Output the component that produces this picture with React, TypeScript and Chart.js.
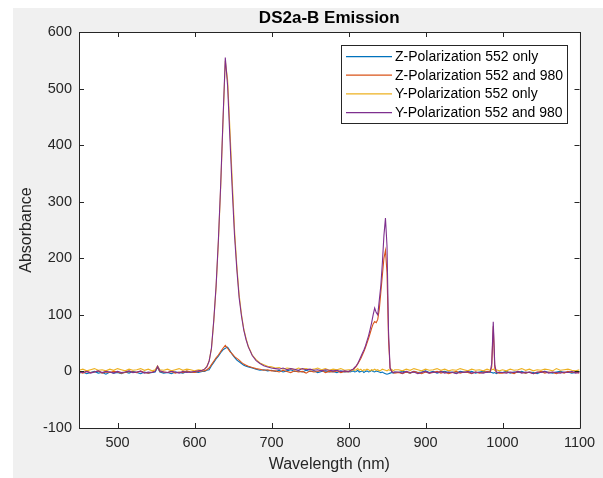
import React, { useEffect, useRef } from "react";
import { Chart, registerables } from "chart.js";
Chart.register(...registerables);

const wavelengths = [
  450,455,460,465,470,475,480,485,490,495,
  500,505,510,515,520,525,530,535,540,545,
  549,552,555,560,565,570,575,580,585,590,
  595,600,605,610,
  613,616,619,622,625,628,631,634,637,640,643,646,649,652,655,658,661,664,667,670,
  675,680,685,690,695,700,
  705,710,715,720,725,730,735,740,745,750,755,760,765,770,775,780,785,790,795,800,
  802,804,806,808,810,812,814,816,818,820,822,824,826,828,830,832,834,836,838,840,842,844,846,848,850,852,854,856,858,860,
  865,870,875,880,885,890,895,900,905,910,915,920,925,930,935,940,945,950,955,960,965,970,975,980,
  984,986,988,990,992,996,
  1000,1005,1010,1015,1020,1025,1030,1035,1040,1045,1050,1055,1060,1065,1070,1075,1080,1085,1090,1095,1100,
];

const zPol552Only = [
  -3,-1,-4,-2,0,-3,-2,-5,-1,-3,-2,-4,-1,-3,0,-2,-4,-1,-3,-2,-1,8,-1,-3,-2,-4,-1,-2,-3,0,-2,-1,-2,0,
  0,2,3,10,16,22,27,33,38,41,43,37,30,25,20,17,14,11,9,8,6,4,2,3,1,2,
  0,2,-1,1,3,0,1,-1,2,0,1,-2,0,1,-1,0,-2,1,-1,0,
  -1,0,1,-1,0,2,-1,0,1,-2,0,1,-1,0,2,0,-1,1,0,-1,-2,-1,-3,-4,-5,-4,-3,-2,-3,-1,
  -2,0,-1,-3,0,-2,-1,1,-2,0,-3,-1,0,-2,-1,-3,0,-1,-2,0,-3,-1,0,-2,
  -1,-2,-3,-2,-4,-1,
  -2,0,-3,-1,-2,0,-3,-1,-2,-4,-1,0,-2,-3,-1,0,-2,-1,-3,-2,-1,
];

const zPol552And980 = [
  -1,-3,0,-2,-1,1,-3,-1,-2,0,-1,-3,-2,0,-1,-2,1,-2,-3,-1,1,8,0,-1,-2,0,-3,-1,-2,1,-1,-2,0,1,
  1,3,6,12,18,24,29,35,41,46,41,35,31,26,23,20,16,13,11,9,7,5,4,2,3,1,
  1,-1,2,0,-2,1,-1,0,-3,1,-1,0,2,-2,0,-1,1,-2,0,-1,
  1,2,3,6,9,13,18,23,29,35,42,50,58,67,76,84,88,86,92,110,140,170,200,214,175,55,6,0,-2,-3,
  -2,-4,-1,-3,0,-2,-4,-1,-3,-2,0,-3,-1,-4,-2,0,-3,-1,-2,-4,-1,-3,-2,0,
  -1,8,80,6,-2,-3,
  -3,-1,-2,-4,0,-2,-3,-1,-4,-2,0,-3,-1,-2,-4,-1,-3,0,-2,-1,-3,
];

const yPol552Only = [
  2,4,1,3,5,2,3,1,4,2,5,3,1,4,2,3,5,2,4,1,3,10,3,2,4,1,3,5,2,4,3,1,3,2,
  4,9,19,40,88,148,228,325,440,549,515,428,338,250,186,135,101,75,58,44,29,21,15,12,9,8,
  6,7,4,6,5,3,6,4,5,3,4,6,3,5,2,4,3,5,2,3,
  3,1,4,2,3,5,2,4,1,3,2,4,3,1,3,2,4,2,3,1,2,4,3,2,1,3,2,4,1,3,
  3,1,4,2,5,3,1,4,2,3,5,2,4,1,3,2,5,3,1,4,2,3,1,4,
  2,3,4,2,3,1,
  3,1,4,2,3,5,2,4,1,3,2,4,3,1,5,2,3,4,2,1,3,
];

const yPol552And980 = [
  -1,-2,0,-3,-1,1,-2,0,-1,-3,0,-2,-1,1,-2,-1,0,-3,-1,-2,0,9,1,-1,-2,0,-1,-3,0,-2,-1,0,1,2,
  4,8,18,41,90,150,232,330,445,555,505,412,322,240,180,130,98,73,56,43,28,19,14,10,8,6,
  5,4,6,3,5,4,2,5,3,4,2,3,1,3,2,1,2,0,1,0,
  1,3,4,7,10,14,20,26,32,38,45,54,63,74,86,100,112,104,100,126,152,192,240,271,222,70,6,0,-2,-1,
  -1,-3,0,-2,-1,-4,-2,0,-3,-1,-2,0,-3,-1,-2,-4,-1,-2,0,-3,-1,-2,-3,-1,
  -1,14,88,11,-1,-2,
  -2,-3,-1,-2,0,-3,-1,-2,-4,-1,-2,0,-3,-1,-2,-3,-1,-2,0,-3,-2,
];

const seriesLabels = [
  "Z-Polarization 552 only",
  "Z-Polarization 552 and 980",
  "Y-Polarization 552 only",
  "Y-Polarization 552 and 980",
];
const seriesColors = ["#0072BD", "#D95319", "#EDB120", "#7E2F8E"];
const xTicks = [500, 600, 700, 800, 900, 1000, 1100];
const yTicks = [-100, 0, 100, 200, 300, 400, 500, 600];

const FONT = "'Liberation Sans', Arial, Helvetica, sans-serif";
const AXIS_COLOR = "#262626";

const matlabPlugin = {
  id: "matlabLook",
  beforeDraw(chart: any) {
    const { ctx, chartArea } = chart;
    ctx.save();
    ctx.fillStyle = "#f0f0f0";
    ctx.fillRect(13, 8, chart.width - 13, chart.height - 8);
    ctx.fillStyle = "#ffffff";
    ctx.fillRect(chartArea.left, chartArea.top, chartArea.right - chartArea.left, chartArea.bottom - chartArea.top);
    ctx.restore();
  },
  afterDatasetsDraw(chart: any) {
    const { ctx, chartArea, scales } = chart;
    const { left, right, top, bottom } = chartArea;
    ctx.save();
    ctx.strokeStyle = AXIS_COLOR;
    ctx.lineWidth = 1;
    ctx.beginPath();
    ctx.rect(Math.round(left) + 0.5, Math.round(top) + 0.5, Math.round(right - left), Math.round(bottom - top));
    ctx.stroke();
    const tl = 5;
    ctx.beginPath();
    for (const v of xTicks) {
      const x = Math.round(scales.x.getPixelForValue(v)) + 0.5;
      ctx.moveTo(x, bottom);
      ctx.lineTo(x, bottom - tl);
      ctx.moveTo(x, top);
      ctx.lineTo(x, top + tl);
    }
    for (const v of yTicks) {
      const y = Math.round(scales.y.getPixelForValue(v)) + 0.5;
      ctx.moveTo(left, y);
      ctx.lineTo(left + tl, y);
      ctx.moveTo(right, y);
      ctx.lineTo(right - tl, y);
    }
    ctx.stroke();

    // legend
    const bx = 341.5, by = 45.5, bw = 226, bh = 78;
    ctx.fillStyle = "#ffffff";
    ctx.fillRect(bx, by, bw, bh);
    ctx.strokeStyle = AXIS_COLOR;
    ctx.strokeRect(bx, by, bw, bh);
    ctx.font = `14px ${FONT}`;
    ctx.textBaseline = "middle";
    ctx.textAlign = "left";
    const rows = [56.7, 75.2, 93.9, 112.6];
    chart.data.datasets.forEach((ds: any, i: number) => {
      const y = rows[i];
      ctx.strokeStyle = ds.borderColor;
      ctx.lineWidth = 1.2;
      ctx.beginPath();
      ctx.moveTo(346, y);
      ctx.lineTo(392, y);
      ctx.stroke();
      ctx.fillStyle = "#000000";
      ctx.fillText(ds.label, 395, y + 0.5);
    });
    ctx.restore();
  },
};

export default function App() {
  const ref = useRef<HTMLCanvasElement | null>(null);
  useEffect(() => {
    if (!ref.current) return;
    const series = [zPol552Only, zPol552And980, yPol552Only, yPol552And980];
    const chart = new Chart(ref.current, {
      type: "line",
      data: {
        datasets: series.map((vals, i) => ({
          label: seriesLabels[i],
          data: wavelengths.map((x, j) => ({ x, y: vals[j] })),
          borderColor: seriesColors[i],
          backgroundColor: seriesColors[i],
          borderWidth: 1.1,
          pointRadius: 0,
          tension: 0,
          fill: false,
          order: 4 - i,
        })),
      },
      options: {
        animation: false,
        responsive: false,
        events: [],
        layout: { padding: { left: 13, top: 8, right: 23.5, bottom: 0 } },
        plugins: {
          legend: { display: false },
          tooltip: { enabled: false },
          title: {
            display: true,
            text: "DS2a-B Emission",
            fullSize: false,
            color: "#000000",
            font: { family: FONT, size: 17, weight: "bold" },
            padding: { top: 0, bottom: 3.6 },
          },
        },
        scales: {
          x: {
            type: "linear",
            min: 450,
            max: 1100,
            afterBuildTicks: (s: any) => { s.ticks = xTicks.map((v) => ({ value: v })); },
            afterFit: (s: any) => { s.height = 50; },
            grid: { display: false, drawTicks: false },
            border: { display: false },
            ticks: {
              color: AXIS_COLOR,
              font: { family: FONT, size: 14.5 },
              padding: 6,
              maxRotation: 0,
              autoSkip: false,
              callback: (v: any) => String(v),
            },
            title: {
              display: true,
              text: "Wavelength (nm)",
              color: AXIS_COLOR,
              font: { family: FONT, size: 16 },
              padding: { top: 0, bottom: 3.4 },
            },
          },
          y: {
            type: "linear",
            min: -100,
            max: 600,
            afterBuildTicks: (s: any) => { s.ticks = yTicks.map((v) => ({ value: v })); },
            afterFit: (s: any) => { s.width = 66; },
            grid: { display: false, drawTicks: false },
            border: { display: false },
            ticks: {
              color: AXIS_COLOR,
              font: { family: FONT, size: 14.5 },
              padding: 7,
              autoSkip: false,
              callback: (v: any) => String(v),
            },
            title: {
              display: true,
              text: "Absorbance",
              color: AXIS_COLOR,
              font: { family: FONT, size: 16 },
              padding: { top: 4.4, bottom: 0 },
            },
          },
        },
      },
      plugins: [matlabPlugin],
    });
    return () => chart.destroy();
  }, []);
  return (
    <div style={{ position: "fixed", left: 0, top: 0, width: 603, height: 478, background: "#ffffff" }}>
      <canvas ref={ref} width={603} height={478} style={{ display: "block" }} />
    </div>
  );
}
